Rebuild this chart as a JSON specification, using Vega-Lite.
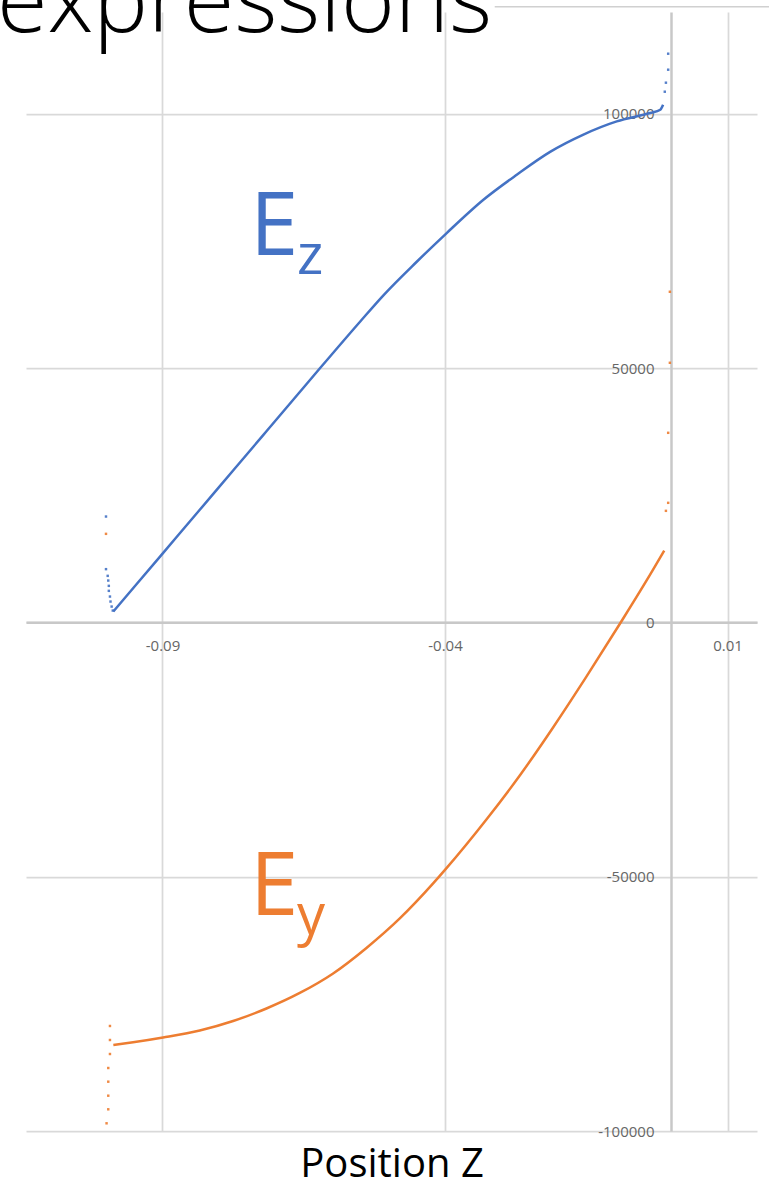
{
  "$schema": "https://vega.github.io/schema/vega-lite/v6.json",
  "width": 731,
  "height": 1119,
  "autosize": {"type": "none"},
  "padding": {"left": 26, "top": 12, "right": 12, "bottom": 50},
  "background": "white",
  "config": {
    "view": {"stroke": null},
    "locale": {
      "number": {"decimal": ".", "thousands": ",", "grouping": [3], "currency": ["$", ""], "minus": "-"}
    }
  },
  "datasets": {
    "field": [
      {"series": "Ez", "kind": "curve", "z": -0.0987, "value": 2124},
      {"series": "Ez", "kind": "curve", "z": -0.0901, "value": 13373},
      {"series": "Ez", "kind": "curve", "z": -0.0834, "value": 22136},
      {"series": "Ez", "kind": "curve", "z": -0.0775, "value": 29854},
      {"series": "Ez", "kind": "curve", "z": -0.0716, "value": 37571},
      {"series": "Ez", "kind": "curve", "z": -0.0657, "value": 45288},
      {"series": "Ez", "kind": "curve", "z": -0.0621, "value": 49997},
      {"series": "Ez", "kind": "curve", "z": -0.055, "value": 59155},
      {"series": "Ez", "kind": "curve", "z": -0.0509, "value": 64300},
      {"series": "Ez", "kind": "curve", "z": -0.045, "value": 70900},
      {"series": "Ez", "kind": "curve", "z": -0.0397, "value": 76540},
      {"series": "Ez", "kind": "curve", "z": -0.0332, "value": 83089},
      {"series": "Ez", "kind": "curve", "z": -0.0273, "value": 88006},
      {"series": "Ez", "kind": "curve", "z": -0.0214, "value": 92500},
      {"series": "Ez", "kind": "curve", "z": -0.0155, "value": 95900},
      {"series": "Ez", "kind": "curve", "z": -0.0096, "value": 98488},
      {"series": "Ez", "kind": "curve", "z": -0.0037, "value": 100141},
      {"series": "Ez", "kind": "curve", "z": -0.0019, "value": 100789},
      {"series": "Ez", "kind": "curve", "z": -0.0014, "value": 101771},
      {"series": "Ey", "kind": "curve", "z": -0.0987, "value": -83089},
      {"series": "Ey", "kind": "curve", "z": -0.0952, "value": -82558},
      {"series": "Ey", "kind": "curve", "z": -0.0899, "value": -81614},
      {"series": "Ey", "kind": "curve", "z": -0.0834, "value": -80237},
      {"series": "Ey", "kind": "curve", "z": -0.0775, "value": -78369},
      {"series": "Ey", "kind": "curve", "z": -0.0716, "value": -75911},
      {"series": "Ey", "kind": "curve", "z": -0.0657, "value": -72862},
      {"series": "Ey", "kind": "curve", "z": -0.0598, "value": -69028},
      {"series": "Ey", "kind": "curve", "z": -0.0539, "value": -64013},
      {"series": "Ey", "kind": "curve", "z": -0.048, "value": -58211},
      {"series": "Ey", "kind": "curve", "z": -0.0421, "value": -51329},
      {"series": "Ey", "kind": "curve", "z": -0.04, "value": -48673},
      {"series": "Ey", "kind": "curve", "z": -0.0326, "value": -38663},
      {"series": "Ey", "kind": "curve", "z": -0.0267, "value": -30010},
      {"series": "Ey", "kind": "curve", "z": -0.0209, "value": -20708},
      {"series": "Ey", "kind": "curve", "z": -0.015, "value": -10718},
      {"series": "Ey", "kind": "curve", "z": -0.0091, "value": -374},
      {"series": "Ey", "kind": "curve", "z": -0.0032, "value": 10305},
      {"series": "Ey", "kind": "curve", "z": -0.0012, "value": 14120},
      {"series": "Ez", "kind": "stray", "z": -0.1, "value": 20807},
      {"series": "Ez", "kind": "stray", "z": -0.1, "value": 10462},
      {"series": "Ez", "kind": "stray", "z": -0.0997, "value": 9145},
      {"series": "Ez", "kind": "stray", "z": -0.0996, "value": 8220},
      {"series": "Ez", "kind": "stray", "z": -0.0995, "value": 7178},
      {"series": "Ez", "kind": "stray", "z": -0.0995, "value": 6195},
      {"series": "Ez", "kind": "stray", "z": -0.0993, "value": 5074},
      {"series": "Ez", "kind": "stray", "z": -0.0992, "value": 4091},
      {"series": "Ez", "kind": "stray", "z": -0.099, "value": 3107},
      {"series": "Ez", "kind": "stray", "z": -0.0988, "value": 2321},
      {"series": "Ez", "kind": "stray", "z": -0.0005, "value": 111800},
      {"series": "Ez", "kind": "stray", "z": -0.0005, "value": 108655},
      {"series": "Ez", "kind": "stray", "z": -0.0009, "value": 106100},
      {"series": "Ez", "kind": "stray", "z": -0.0011, "value": 104328},
      {"series": "Ey", "kind": "stray", "z": -0.1, "value": 17404},
      {"series": "Ey", "kind": "stray", "z": -0.0993, "value": -79352},
      {"series": "Ey", "kind": "stray", "z": -0.0993, "value": -82108},
      {"series": "Ey", "kind": "stray", "z": -0.0993, "value": -84862},
      {"series": "Ey", "kind": "stray", "z": -0.0996, "value": -87615},
      {"series": "Ey", "kind": "stray", "z": -0.0996, "value": -90305},
      {"series": "Ey", "kind": "stray", "z": -0.0996, "value": -93059},
      {"series": "Ey", "kind": "stray", "z": -0.0996, "value": -95734},
      {"series": "Ey", "kind": "stray", "z": -0.0999, "value": -98487},
      {"series": "Ey", "kind": "stray", "z": -0.0002, "value": 64996},
      {"series": "Ey", "kind": "stray", "z": -0.0002, "value": 51033},
      {"series": "Ey", "kind": "stray", "z": -0.0005, "value": 37267},
      {"series": "Ey", "kind": "stray", "z": -0.0005, "value": 23501},
      {"series": "Ey", "kind": "stray", "z": -0.0009, "value": 21928}
    ],
    "labels": [
      {"series": "Ez", "main": "E", "sub": "z", "z": -0.0745, "value": 72273},
      {"series": "Ey", "main": "E", "sub": "y", "z": -0.0745, "value": -57523}
    ]
  },
  "layer": [
    {
      "data": {"name": "field"},
      "transform": [{"filter": "datum.kind === 'curve'"}],
      "mark": {"type": "line", "strokeWidth": 2.5, "interpolate": "monotone"},
      "encoding": {
        "x": {
          "field": "z",
          "type": "quantitative",
          "scale": {"domain": [-0.114159, 0.015221], "nice": false, "zero": false},
          "axis": {
            "values": [-0.09, -0.04, 0.01],
            "format": ".2f",
            "offset": -508.64,
            "ticks": false,
            "domainColor": "#c8c8c8",
            "domainWidth": 2.5,
            "grid": true,
            "gridColor": "#d9d9d9",
            "gridWidth": 1.75,
            "labelFont": "Open Sans",
            "labelFontSize": 15,
            "labelColor": "#666666",
            "labelPadding": 16,
            "labelOverlap": false,
            "labelFlush": false,
            "title": "Position Z",
            "titleFont": "Open Sans",
            "titleFontSize": 40,
            "titleFontWeight": "normal",
            "titleColor": "#000000",
            "titleBaseline": "alphabetic",
            "titleY": 554
          }
        },
        "y": {
          "field": "value",
          "type": "quantitative",
          "scale": {"domain": [-100000, 120000], "nice": false, "zero": false},
          "axis": {
            "values": [-100000, -50000, 0, 50000, 100000],
            "format": "d",
            "offset": -645,
            "ticks": false,
            "domainColor": "#c8c8c8",
            "domainWidth": 2.5,
            "grid": true,
            "gridColor": "#d9d9d9",
            "gridWidth": 1.75,
            "labelFont": "Open Sans",
            "labelFontSize": 15,
            "labelColor": "#666666",
            "labelPadding": 17,
            "labelOverlap": false,
            "labelFlush": false,
            "title": null
          }
        },
        "color": {
          "field": "series",
          "type": "nominal",
          "scale": {"domain": ["Ez", "Ey"], "range": ["#4472C4", "#ED7D31"]},
          "legend": null
        },
        "detail": {"field": "series"}
      }
    },
    {
      "description": "thin frame line along the top edge, right of the heading",
      "data": {"values": [{}]},
      "mark": {"type": "rule", "color": "#d0d0d0", "strokeWidth": 1.5, "clip": false},
      "encoding": {
        "x": {"datum": -0.0312, "type": "quantitative"},
        "x2": {"datum": 0.0175},
        "y": {"datum": 121045, "type": "quantitative"}
      }
    },
    {
      "description": "slide heading",
      "data": {"values": [{}]},
      "mark": {"type": "text", "text": "expressions", "font": "Open Sans", "fontWeight": 300, "fontSize": 92, "color": "#000000", "align": "left", "baseline": "alphabetic", "clip": false},
      "encoding": {
        "x": {"datum": -0.119292, "type": "quantitative"},
        "y": {"datum": 116127, "type": "quantitative"}
      }
    },
    {
      "data": {"name": "field"},
      "transform": [{"filter": "datum.kind === 'stray'"}],
      "mark": {"type": "point", "shape": "square", "filled": true, "size": 6, "opacity": 0.9},
      "encoding": {
        "x": {"field": "z", "type": "quantitative"},
        "y": {"field": "value", "type": "quantitative"},
        "color": {"field": "series", "type": "nominal", "legend": null}
      }
    },
    {
      "data": {"name": "labels"},
      "mark": {"type": "text", "font": "Open Sans", "fontSize": 87, "align": "left", "baseline": "alphabetic"},
      "encoding": {
        "x": {"field": "z", "type": "quantitative"},
        "y": {"field": "value", "type": "quantitative"},
        "text": {"field": "main"},
        "color": {"field": "series", "type": "nominal", "legend": null}
      }
    },
    {
      "data": {"name": "labels"},
      "mark": {"type": "text", "font": "Open Sans", "fontSize": 56, "align": "left", "baseline": "alphabetic", "dx": 47, "dy": 19},
      "encoding": {
        "x": {"field": "z", "type": "quantitative"},
        "y": {"field": "value", "type": "quantitative"},
        "text": {"field": "sub"},
        "color": {"field": "series", "type": "nominal", "legend": null}
      }
    }
  ]
}
